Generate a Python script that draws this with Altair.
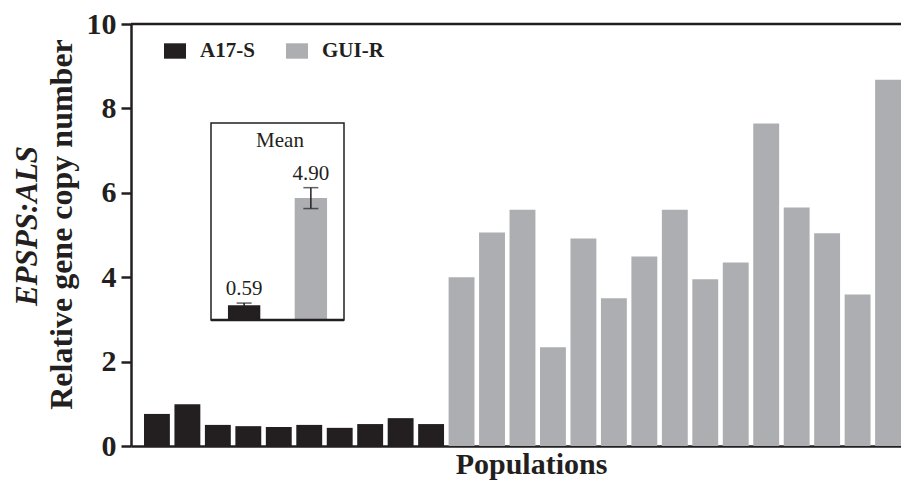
import altair as alt
import pandas as pd

# ---- data ----
populations = [f"S{i}" for i in range(1, 11)] + [f"R{i}" for i in range(1, 16)]
groups = ["A17-S"] * 10 + ["GUI-R"] * 15
copy_number = [0.76, 0.99, 0.50, 0.47, 0.45, 0.50, 0.43, 0.52, 0.66, 0.52,
               4.00, 5.06, 5.60, 2.34, 4.92, 3.50, 4.49, 5.60, 3.95, 4.35,
               7.64, 5.65, 5.04, 3.59, 8.68]

group_names = ["A17-S", "GUI-R"]
group_colors = ["#231f20", "#adaeb1"]
mean_values = [0.59, 4.90]
mean_errors = [0.09, 0.42]
inset_title = "Mean"
y_title_top = "EPSPS:ALS"
y_title = "Relative gene copy number"
x_title = "Populations"

FONT = "Liberation Serif"
INK = "#231f20"

df = pd.DataFrame({"pop": populations, "group": groups, "value": copy_number})
inset = pd.DataFrame({
    "group": group_names,
    "mean": mean_values,
    "err": mean_errors,
    "color": group_colors,
})
inset["lo"] = inset["mean"] - inset["err"]
inset["hi"] = inset["mean"] + inset["err"]

bars = alt.Chart(df).mark_bar().encode(
    x=alt.X("pop:N", sort=None,
            scale=alt.Scale(paddingInner=0.15, paddingOuter=0.213, align=1),
            axis=alt.Axis(title=x_title, labels=False, ticks=False,
                          domainColor=INK, domainWidth=2.5,
                          titleFont=FONT, titleFontSize=30, titleFontWeight="bold",
                          titleColor=INK, titleX=400, titleY=27,
                          titleAlign="center", titleBaseline="alphabetic")),
    y=alt.Y("value:Q", scale=alt.Scale(domain=[0, 10], nice=False),
            axis=alt.Axis(values=[0, 2, 4, 6, 8, 10], grid=False,
                          title=y_title,
                          domainColor=INK, domainWidth=2.5,
                          tickColor=INK, tickWidth=2.5, tickSize=10,
                          labelFont=FONT, labelFontSize=30, labelFontWeight="bold",
                          labelColor=INK, labelPadding=5,
                          titleFont=FONT, titleFontSize=32, titleFontWeight="bold",
                          titleColor=INK, titleX=-60, titleY=200, titleAngle=270,
                          titleAlign="center", titleBaseline="alphabetic")),
    color=alt.Color("group:N",
                    scale=alt.Scale(domain=group_names, range=group_colors),
                    legend=alt.Legend(title=None, orient="none", legendX=33, legendY=16,
                                      direction="horizontal",
                                      symbolType="M-1,-0.7H1V0.7H-1Z", symbolSize=484,
                                      symbolStrokeWidth=0, symbolOpacity=1,
                                      labelFont=FONT, labelFontSize=21,
                                      labelFontWeight="bold", labelColor=INK,
                                      labelOffset=14, columnPadding=31)),
)

top_rule = alt.Chart(pd.DataFrame({"v": [10]})).mark_rule(
    color=INK, strokeWidth=2.5).encode(y=alt.Y("v:Q"))

main_layer = alt.layer(bars, top_rule)

# ---- inset ----
ix = alt.X("group:N", sort=group_names,
           scale=alt.Scale(domain=group_names, range=[80, 213],
                           paddingInner=0.515, paddingOuter=0.254),
           axis=None)
iy_scale = alt.Scale(domain=[0, 8], range=[296, 97], nice=False, zero=True)

base = alt.Chart(inset)
one = pd.DataFrame({"t": [inset_title]})

box = alt.Chart(one).mark_rect(
    fill="white", stroke=INK, strokeWidth=1.5).encode(
    x=alt.value(80), x2=alt.value(213), y=alt.value(99), y2=alt.value(296))

box_base = alt.Chart(one).mark_rule(
    color=INK, strokeWidth=2.5).encode(
    x=alt.value(80), x2=alt.value(213), y=alt.value(296))

ibars = base.mark_bar().encode(
    x=ix,
    y=alt.Y("mean:Q", scale=iy_scale, axis=None),
    color=alt.Color("color:N", scale=None),
)
ierr = base.mark_rule(color=INK, strokeWidth=1.5).encode(
    x=ix, y=alt.Y("lo:Q", scale=iy_scale, axis=None), y2="hi:Q")
icap_hi = base.mark_tick(color=INK, thickness=1.5, size=15).encode(
    x=ix, y=alt.Y("hi:Q", scale=iy_scale, axis=None))
icap_lo = base.mark_tick(color=INK, thickness=1.5, size=15).encode(
    x=ix, y=alt.Y("lo:Q", scale=iy_scale, axis=None))
ilabels = base.mark_text(font=FONT, fontSize=21, color=INK, baseline="alphabetic",
                         dy=-8).encode(
    x=ix, y=alt.Y("hi:Q", scale=iy_scale, axis=None),
    text=alt.Text("mean:Q", format=".2f"))
ititle = alt.Chart(one).mark_text(
    font=FONT, fontSize=21, color=INK, baseline="alphabetic").encode(
    x=alt.value(149), y=alt.value(123), text="t:N")

# italic first line of the y title
ytop = alt.Chart(pd.DataFrame({"t": [y_title_top]})).mark_text(
    font=FONT, fontSize=31, fontStyle="italic", fontWeight="bold", color=INK,
    angle=270, align="center", baseline="alphabetic").encode(
    x=alt.value(-94), y=alt.value(202), text="t:N")

inset_layer = alt.layer(box, ititle, ibars, icap_lo, ierr, icap_hi, ilabels,
                        box_base, ytop)

chart = alt.layer(main_layer, inset_layer).resolve_scale(
    x="independent", y="independent"
).properties(
    width=770, height=422,
    autosize=alt.AutoSizeParams(type="none"),
    padding={"left": 123, "top": 16, "right": 0, "bottom": 40},
).configure_view(stroke=None)

chart.save("out.html", embed_options={"renderer": "svg", "actions": False})
